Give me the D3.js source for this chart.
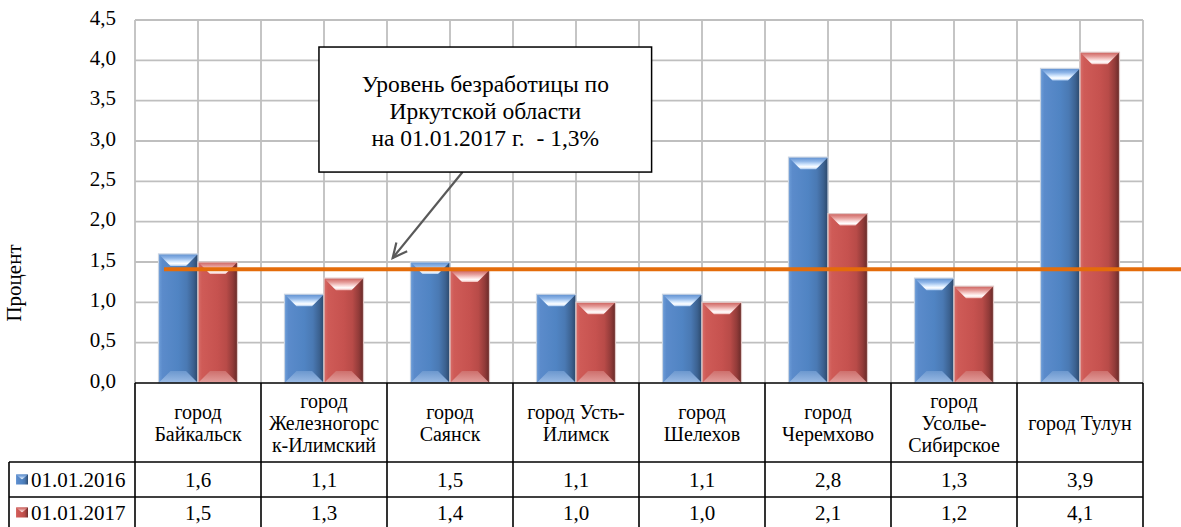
<!DOCTYPE html>
<html><head><meta charset="utf-8">
<script src="https://cdn.jsdelivr.net/npm/d3@7"></script>
<style>
html,body{margin:0;padding:0;background:#fff;}
svg{display:block;}
</style></head>
<body>
<svg id="chart" width="1181" height="527"></svg>
<script>
// ---- data ----
const categories = ["город\nБайкальск","город\nЖелезногорс\nк-Илимский","город\nСаянск","город Усть-\nИлимск","город\nШелехов","город\nЧеремхово","город\nУсолье-\nСибирское","город Тулун"];
const seriesNames = ["01.01.2016","01.01.2017"];
const values2016 = [1.6,1.1,1.5,1.1,1.1,2.8,1.3,3.9];
const values2017 = [1.5,1.3,1.4,1.0,1.0,2.1,1.2,4.1];
const yTicks = [0,0.5,1,1.5,2,2.5,3,3.5,4,4.5];
const regionLevel = 1.41;
const annotationLines = ["Уровень безработицы по","Иркутской области","на 01.01.2017 г.  - 1,3%"];
const yTitle = "Процент";

// ---- layout ----
const FONT = "Liberation Serif";
const W=1181,H=527;
const L=135,R=1143,T=20,B=383;
const headerBottom=462,row1Bottom=497,row2Bottom=532,tableLeft=9;
const svg=d3.select("#chart");
const defs=svg.append("defs");
const fs=21;
const commaFmt=v=>d3.format(".1f")(v).replace(".",",");
function txt(sel){return sel.append("text").attr("font-family",FONT).attr("fill","#000");}

const y=d3.scaleLinear().domain([0,4.5]).range([B,T]);
const x0=d3.scaleBand().domain(d3.range(categories.length)).range([L,R]).paddingInner(0).paddingOuter(0);
const x1=d3.scaleBand().domain([0,1]).range([0,x0.bandwidth()]).paddingInner(0).paddingOuter(0.595);
const xu=d3.scaleLinear().domain([0,categories.length]).range([L,R]);

const palettes=[
 {side:["#6d9dd8","#5b8bcb","#5084c3","#4a79b3","#3c6291","#2b4769"],top:["#5e8fcf","#8fb6e8","#d9ebff","#ffffff","#a9c9f0"],bot:["#6f9ad0","#a3c1e8"],stroke:"#c9d4e3"},
 {side:["#d86e6a","#cf5b57","#c6524f","#b84b48","#923b39","#672a28"],top:["#cc605c","#e59c99","#fbdedd","#ffffff","#eeb0ae"],bot:["#cf7370","#e6a8a6"],stroke:"#e0c8c7"}
];
palettes.forEach((p,i)=>{
  const g=defs.append("linearGradient").attr("id","side"+i).attr("x1","0").attr("x2","1").attr("y1","0").attr("y2","0");
  [0,0.1,0.5,0.72,0.88,1].forEach((o,k)=>g.append("stop").attr("offset",o).attr("stop-color",p.side[k]));
  const t=defs.append("linearGradient").attr("id","top"+i).attr("x1","0").attr("x2","0").attr("y1","0").attr("y2","1");
  [0,0.35,0.65,0.82,1].forEach((o,k)=>t.append("stop").attr("offset",o).attr("stop-color",p.top[k]));
  const b=defs.append("linearGradient").attr("id","bot"+i).attr("x1","0").attr("x2","0").attr("y1","0").attr("y2","1");
  [0,1].forEach((o,k)=>b.append("stop").attr("offset",o).attr("stop-color",p.bot[k]));
});

// ---- grid ----
const grid=svg.append("g").attr("stroke","#bfbfbf").attr("stroke-width",1.8);
yTicks.filter(v=>v>0).forEach(v=>grid.append("line").attr("x1",L).attr("x2",R).attr("y1",y(v)).attr("y2",y(v)));
d3.range(categories.length*2+1).forEach(k=>{
  const xx=xu(k/2);
  grid.append("line").attr("x1",xx).attr("x2",xx).attr("y1",T).attr("y2",B);
});

// ---- y axis labels ----
const yAxis=d3.axisLeft(y).tickValues(yTicks).tickFormat(commaFmt).tickSize(0).tickPadding(19);
const ya=svg.append("g").attr("transform",`translate(${L},0)`).call(yAxis);
ya.attr("font-family",FONT).attr("font-size",fs);
ya.select(".domain").remove();
ya.selectAll("text").attr("font-family",FONT).attr("font-size",fs).attr("fill","#000").attr("dy","0.2em");

txt(svg).attr("transform",`translate(21,283) rotate(-90)`).attr("text-anchor","middle").attr("font-size",fs).text(yTitle);

// ---- bars ----
const series=[values2016,values2017];
series.forEach((vals,si)=>{
  const p=palettes[si];
  const g=svg.append("g");
  vals.forEach((v,ci)=>{
    const bx=x0(ci)+x1(si), bw=x1.bandwidth(), by=y(v), bh=y(0)-y(v);
    const b=Math.min(12,bh/2), bi=Math.min(12,bw/3);
    g.append("rect").attr("x",bx).attr("y",by).attr("width",bw).attr("height",bh).attr("fill",`url(#side${si})`);
    g.append("path").attr("d",`M${bx},${by}L${bx+bw},${by}L${bx+bw-bi},${by+b}L${bx+bi},${by+b}Z`).attr("fill",`url(#top${si})`);
    g.append("path").attr("d",`M${bx+bi},${by+bh-b}L${bx+bw-bi},${by+bh-b}L${bx+bw},${by+bh}L${bx},${by+bh}Z`).attr("fill",`url(#bot${si})`).attr("opacity",0.9);
    g.append("rect").attr("x",bx).attr("y",by).attr("width",bw).attr("height",bh).attr("fill","none").attr("stroke",p.stroke).attr("stroke-width",1.2);
  });
});

// ---- region level line ----
svg.append("line").attr("x1",xu(0.23)).attr("x2",W).attr("y1",y(regionLevel)).attr("y2",y(regionLevel)).attr("stroke","#e46c0a").attr("stroke-width",4);

// ---- annotation ----
const bx0=xu(1.46),bx1=xu(4.1),by0=y(4.165),by1=y(2.615);
const ax0=xu(2.6),ay0=by1,ax1=xu(2.045),ay1=y(1.55);
svg.append("line").attr("x1",ax0).attr("y1",ay0).attr("x2",ax1).attr("y2",ay1).attr("stroke","#595959").attr("stroke-width",2.2);
(function(){
  const ang=Math.atan2(ay1-ay0,ax1-ax0), len=16, spread=0.45;
  const p1=[ax1-len*Math.cos(ang-spread),ay1-len*Math.sin(ang-spread)];
  const p2=[ax1-len*Math.cos(ang+spread),ay1-len*Math.sin(ang+spread)];
  svg.append("path").attr("d",`M${p1}L${ax1},${ay1}L${p2}`).attr("fill","none").attr("stroke","#595959").attr("stroke-width",2.2);
})();
svg.append("rect").attr("x",bx0).attr("y",by0).attr("width",bx1-bx0).attr("height",by1-by0).attr("fill","#fff").attr("stroke","#000").attr("stroke-width",1.5);
const at=txt(svg).attr("text-anchor","middle").attr("font-size",23.5).attr("xml:space","preserve").style("white-space","pre");
annotationLines.forEach((s,i)=>at.append("tspan").attr("x",(bx0+bx1)/2).attr("y",by0+45+i*27).text(s));

// ---- data table ----
const tb=svg.append("g").attr("stroke","#000").attr("stroke-width",1.6);
tb.append("line").attr("x1",L).attr("x2",R).attr("y1",B).attr("y2",B);
tb.append("line").attr("x1",tableLeft).attr("x2",R).attr("y1",headerBottom).attr("y2",headerBottom);
tb.append("line").attr("x1",tableLeft).attr("x2",R).attr("y1",row1Bottom).attr("y2",row1Bottom);
tb.append("line").attr("x1",tableLeft).attr("x2",tableLeft).attr("y1",headerBottom).attr("y2",row2Bottom);
d3.range(categories.length+1).forEach(k=>{
  const xx=k<categories.length?x0(k):R;
  tb.append("line").attr("x1",xx).attr("x2",xx).attr("y1",B).attr("y2",row2Bottom);
});
categories.forEach((c,ci)=>{
  const lines=c.split("\n");
  const cx=x0(ci)+x0.bandwidth()/2, mid=(B+headerBottom)/2, lh=22;
  const t=txt(svg).attr("text-anchor","middle").attr("font-size",20);
  lines.forEach((s,i)=>t.append("tspan").attr("x",cx).attr("y",mid+(i-(lines.length-1)/2)*lh).attr("dy","0.35em").text(s));
});
const rowMids=[(headerBottom+row1Bottom)/2,(row1Bottom+row2Bottom)/2-2];
series.forEach((vals,si)=>{
  svg.append("rect").attr("x",tableLeft+7).attr("y",rowMids[si]-5).attr("width",12).attr("height",10).attr("fill",`url(#side${si})`);
  svg.append("path").attr("d",`M${tableLeft+7},${rowMids[si]-5}L${tableLeft+19},${rowMids[si]-5}L${tableLeft+13},${rowMids[si]}Z`).attr("fill",`url(#top${si})`).attr("opacity",0.8);
  txt(svg).attr("x",tableLeft+22).attr("y",rowMids[si]).attr("dy","0.35em").attr("font-size",fs).text(seriesNames[si]);
  vals.forEach((v,ci)=>{
    txt(svg).attr("x",x0(ci)+x0.bandwidth()/2).attr("y",rowMids[si]).attr("dy","0.35em").attr("text-anchor","middle").attr("font-size",fs).text(commaFmt(v));
  });
});
</script>
</body></html>
